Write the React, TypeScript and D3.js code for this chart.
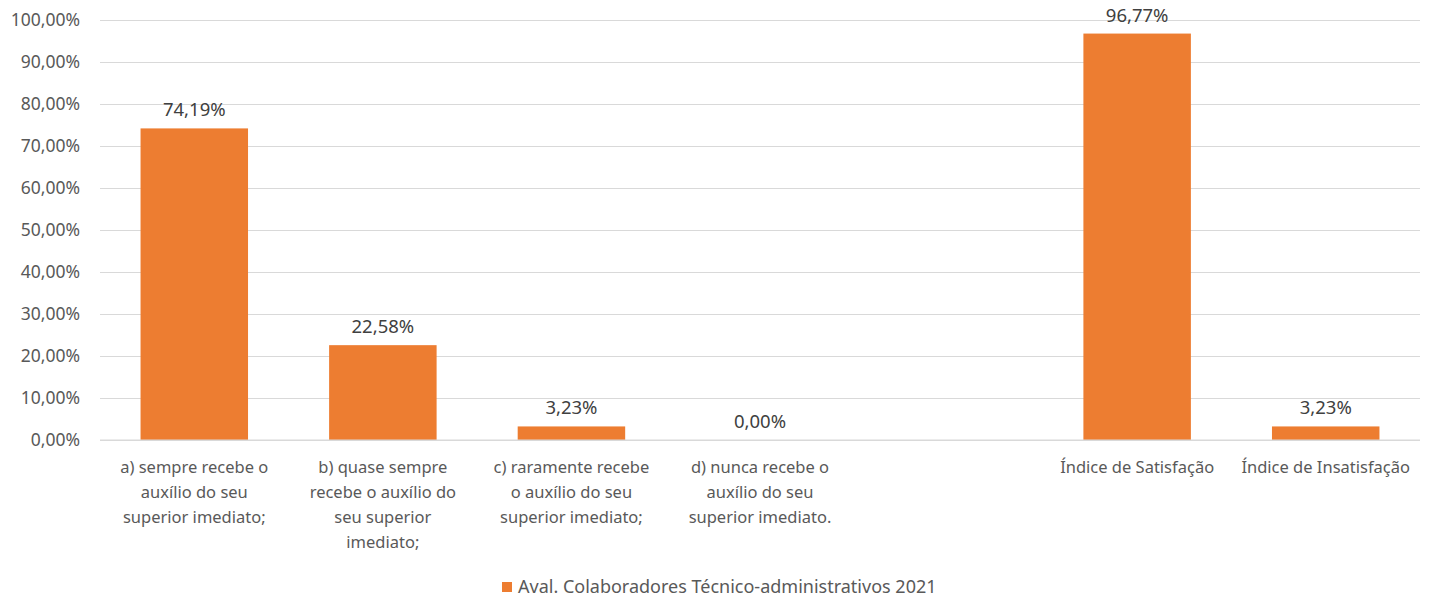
import { useEffect, useRef } from 'react';
import * as d3 from 'd3';

// categories (the empty one is the gap before the indices)
const categories = ['a', 'b', 'c', 'd', 'gap', 'sat', 'insat'];
const labelLines: string[][] = [
  ['a) sempre recebe o', 'auxílio do seu', 'superior imediato;'],
  ['b) quase sempre', 'recebe o auxílio do', 'seu superior', 'imediato;'],
  ['c) raramente recebe', 'o auxílio do seu', 'superior imediato;'],
  ['d) nunca recebe o', 'auxílio do seu', 'superior imediato.'],
  [],
  ['Índice de Satisfação'],
  ['Índice de Insatisfação'],
];
const values: (number | null)[] = [74.19, 22.58, 3.23, 0, null, 96.77, 3.23];
const yTicks = [0, 10, 20, 30, 40, 50, 60, 70, 80, 90, 100];
const seriesName = 'Aval. Colaboradores Técnico-administrativos 2021';

const fmt = (v: number) => v.toFixed(2).replace('.', ',') + '%';

export default function App() {
  const svgRef = useRef<SVGSVGElement>(null);

  useEffect(() => {
    if (!svgRef.current) return;
    const width = 1433;
    const height = 600;
    const margin = { top: 20, right: 13, bottom: 160, left: 100 };
    const innerWidth = width - margin.left - margin.right;
    const innerHeight = height - margin.top - margin.bottom;
    const font = "'Noto Sans', 'Open Sans', sans-serif";
    const textColor = '#595959';
    const orange = '#ed7d31';

    const svg = d3.select(svgRef.current);
    svg.selectAll('*').remove();
    svg.attr('width', width).attr('height', height);

    const g = svg.append('g').attr('transform', `translate(${margin.left},${margin.top})`);

    const x = d3.scaleBand().domain(categories).range([0, innerWidth]).paddingInner(0.43).paddingOuter(0.215);
    const y = d3.scaleLinear().domain([0, 100]).range([innerHeight, 0]);

    // Grid lines
    g.append('g')
      .call(d3.axisLeft(y).tickValues(yTicks).tickSize(-innerWidth).tickFormat(() => ''))
      .call((gg) => {
        gg.select('.domain').remove();
        gg.selectAll('.tick line').attr('stroke', '#d9d9d9').attr('stroke-width', 1);
      });

    // Y tick labels
    g.append('g')
      .call(d3.axisLeft(y).tickValues(yTicks).tickSize(0).tickPadding(20).tickFormat((d) => fmt(Number(d))))
      .call((gg) => {
        gg.select('.domain').remove();
        gg.selectAll('.tick text')
          .attr('fill', textColor)
          .attr('font-family', font)
          .attr('font-size', '17.5px');
      });

    const data = categories.map((c, i) => ({ c, v: values[i], lines: labelLines[i] }));

    // Bars
    g.selectAll('rect.bar')
      .data(data.filter((d) => d.v !== null))
      .join('rect')
      .attr('class', 'bar')
      .attr('x', (d) => x(d.c)!)
      .attr('width', x.bandwidth())
      .attr('y', (d) => y(d.v as number))
      .attr('height', (d) => innerHeight - y(d.v as number))
      .attr('fill', orange);

    // Axis baseline
    g.append('line')
      .attr('x1', 0)
      .attr('x2', innerWidth)
      .attr('y1', innerHeight)
      .attr('y2', innerHeight)
      .attr('stroke', '#d9d9d9');

    // Value labels
    g.selectAll('text.val')
      .data(data.filter((d) => d.v !== null))
      .join('text')
      .attr('class', 'val')
      .attr('x', (d) => x(d.c)! + x.bandwidth() / 2)
      .attr('y', (d) => y(d.v as number) - 12)
      .attr('text-anchor', 'middle')
      .attr('fill', '#404040')
      .attr('font-family', font)
      .attr('font-size', '18.5px')
      .text((d) => fmt(d.v as number));

    // Category labels
    const catG = g.selectAll('text.cat')
      .data(data)
      .join('text')
      .attr('class', 'cat')
      .attr('text-anchor', 'middle')
      .attr('fill', textColor)
      .attr('font-family', font)
      .attr('font-size', '16.5px');
    catG.selectAll('tspan')
      .data((d) => d.lines.map((l) => ({ l, cx: x(d.c)! + x.bandwidth() / 2 })))
      .join('tspan')
      .attr('x', (t) => t.cx)
      .attr('y', (_t, i) => innerHeight + 33 + i * 25)
      .text((t) => t.l);

    // Legend
    const legend = svg.append('g').attr('transform', 'translate(502,582)');
    legend.append('rect').attr('width', 10).attr('height', 10).attr('fill', orange);
    legend.append('text')
      .attr('x', 16)
      .attr('y', 11)
      .attr('fill', textColor)
      .attr('font-family', font)
      .attr('font-size', '18px')
      .text(seriesName);
  }, []);

  return (
    <div style={{ position: 'absolute', left: 0, top: 0 }}>
      <svg ref={svgRef} style={{ display: 'block' }} />
    </div>
  );
}
